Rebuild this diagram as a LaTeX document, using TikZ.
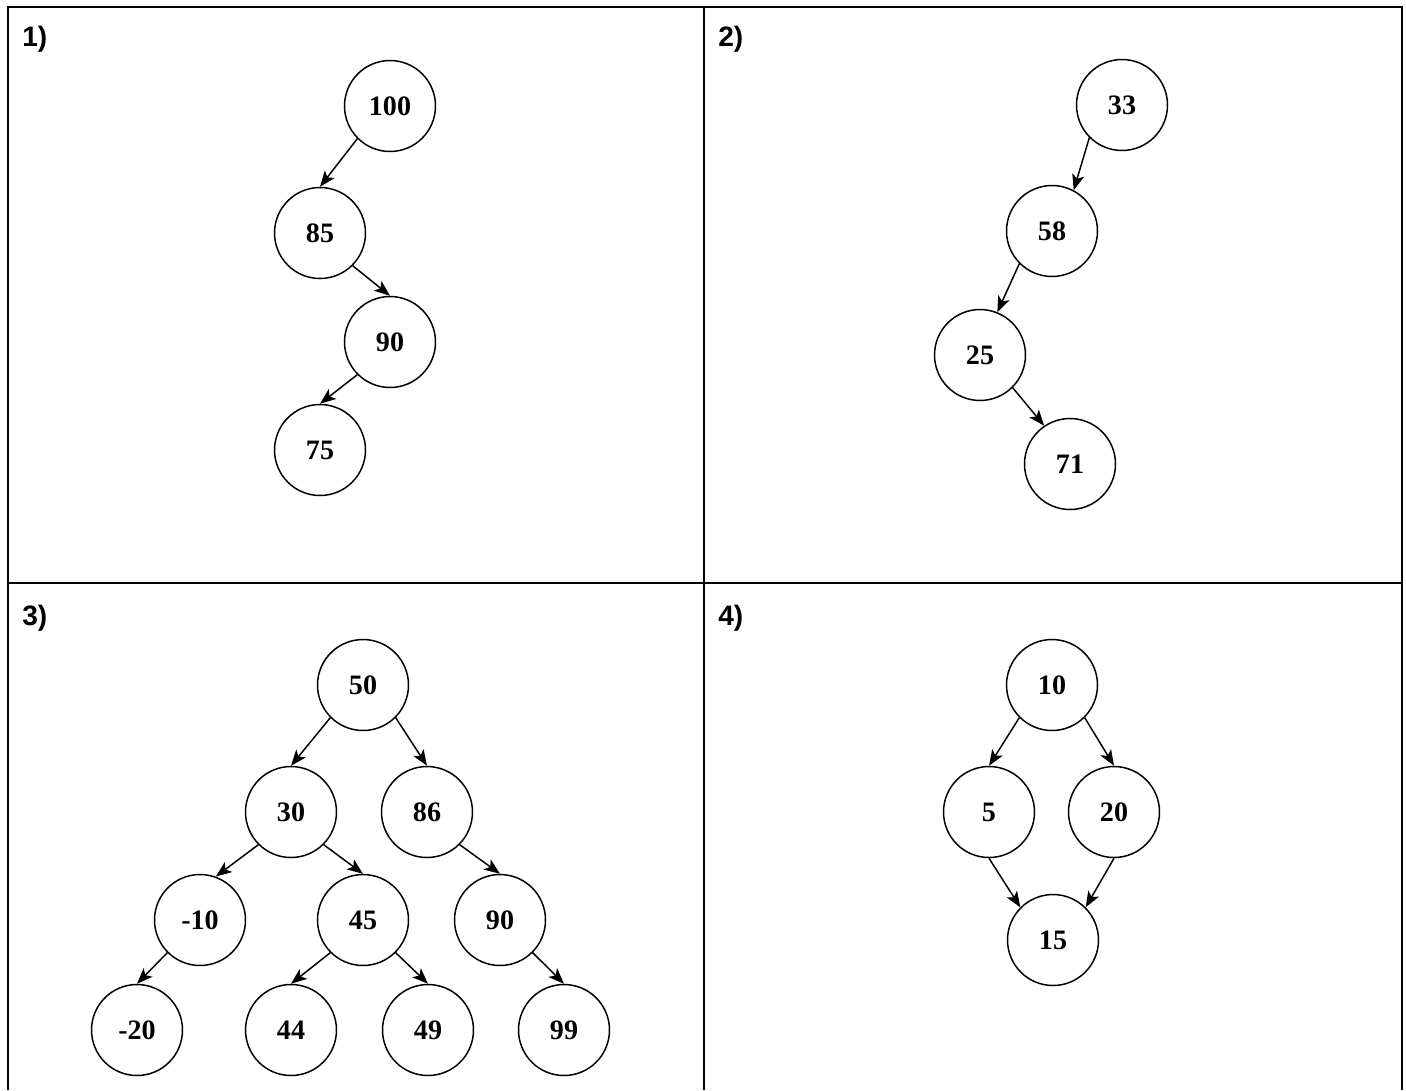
\documentclass[tikz,border=0pt]{standalone}
\usepackage{fontspec}
\setmainfont{Liberation Serif}
\newfontfamily\tagfont{Liberation Sans}
\usetikzlibrary{arrows.meta}
\tikzset{
    x=0.02cm, y=-0.02cm,
    v/.style={circle, draw, line width=0.85pt, minimum size=1.82cm, inner sep=0pt,
        font=\fontsize{16}{18}\selectfont\bfseries},
    tag/.style={anchor=base west, inner sep=0pt, font=\tagfont\fontsize{16}{19}\selectfont\bfseries},
    grid/.style={line width=1.2pt},
    edge/.style={line width=0.85pt, -{Stealth[length=9pt,width=7pt,inset=2.2pt]}}
}
\begin{document}
\begin{tikzpicture}
\useasboundingbox (0,0) rectangle (1406,1090);

% frame
\draw[grid] (8,1090) -- (8,7) -- (1402,7) -- (1402,1090);
\draw[grid] (704,7) -- (704,1090);
\draw[grid] (8,583) -- (1402,583);

\node[tag] at (22,46) (t1) {1)};
\node[tag] at (718,46) (t2) {2)};
\node[tag] at (22,625) (t3) {3)};
\node[tag] at (718,625) (t4) {4)};

% 1)
\node[v] at (390,106) (a100) {100};
\node[v] at (320,233) (a85) {85};
\node[v] at (390,342) (a90) {90};
\node[v] at (320,450) (a75) {75};
\draw[edge] (a100.225) -- (a85.north);
\draw[edge] (a85.-45) -- (a90.north);
\draw[edge] (a90.225) -- (a75.north);

% 2)
\node[v] at (1122,105) (b33) {33};
\node[v] at (1052,231) (b58) {58};
\node[v] at (980,355) (b25) {25};
\node[v] at (1070,464) (b71) {71};
\draw[edge] (b33.225) -- (b58.62);
\draw[edge] (b58.225) -- (b25.68);
\draw[edge] (b25.-45) -- (b71.124);

% 3)
\node[v] at (363,685) (c50) {50};
\node[v] at (291,812) (c30) {30};
\node[v] at (427,812) (c86) {86};
\node[v] at (200,920) (cm10) {-10};
\node[v] at (363,920) (c45) {45};
\node[v] at (500,920) (c90) {90};
\node[v] at (137,1030) (cm20) {-20};
\node[v] at (291,1030) (c44) {44};
\node[v] at (428,1030) (c49) {49};
\node[v] at (564,1030) (c99) {99};
\draw[edge] (c50.225) -- (c30.north);
\draw[edge] (c50.-45) -- (c86.north);
\draw[edge] (c30.225) -- (cm10.70);
\draw[edge] (c30.-45) -- (c45.north);
\draw[edge] (c86.-45) -- (c90.north);
\draw[edge] (cm10.225) -- (cm20.north);
\draw[edge] (c45.225) -- (c44.north);
\draw[edge] (c45.-45) -- (c49.north);
\draw[edge] (c90.-45) -- (c99.north);

% 4)
\node[v] at (1052,685) (d10) {10};
\node[v] at (989,812) (d5) {5};
\node[v] at (1114,812) (d20) {20};
\node[v] at (1053,940) (d15) {15};
\draw[edge] (d10.225) -- (d5.north);
\draw[edge] (d10.-45) -- (d20.north);
\draw[edge] (d5.south) -- (d15.135);
\draw[edge] (d20.south) -- (d15.45);
\end{tikzpicture}
\end{document}
